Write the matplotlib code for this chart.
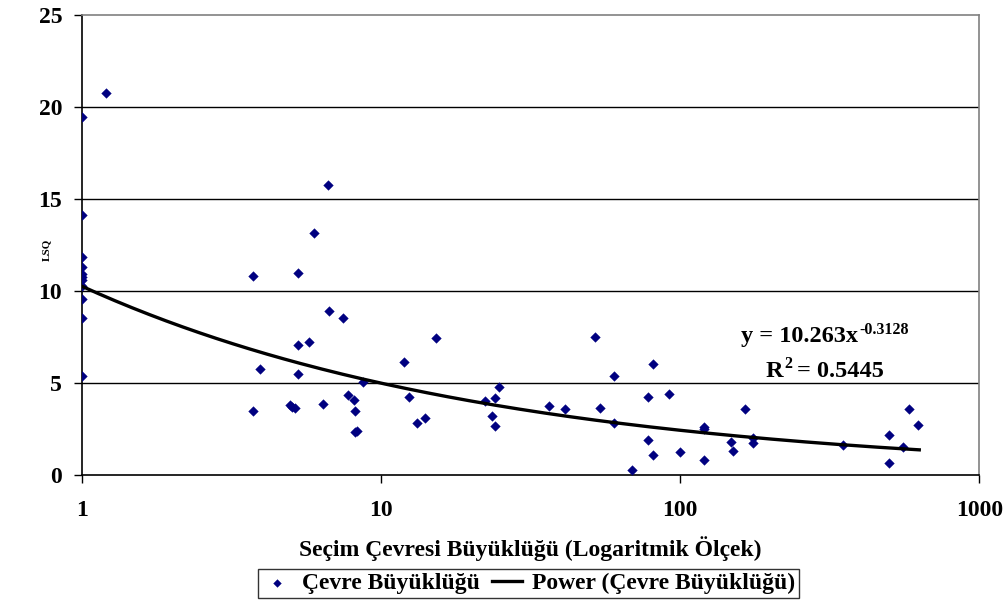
import numpy as np
import matplotlib
matplotlib.use("Agg")
import matplotlib.pyplot as plt

# ---- data ----
district_size = [1, 1, 1, 1, 1, 1, 1, 1, 1, 1, 1,
                 1.21, 6.65, 5.98,
                 3.73, 5.28, 6.70, 7.48, 5.77, 5.28, 3.94, 5.28, 8.71, 7.79, 8.12, 8.19,
                 8.2, 8.3, 3.73, 4.97, 5.06, 5.18, 6.41,
                 11.94, 15.3, 12.4, 13.2, 14.0, 24.9, 22.2, 24.0, 23.5, 24.0,
                 36.5, 41.2, 52.0, 60.1, 54.0, 60.3, 80.9, 77.9, 91.6, 77.9, 80.9, 100.2, 68.9,
                 119.9, 119.9, 119.9, 165.3, 148.5, 150.0, 175.8, 175.8,
                 349.8, 497.3, 497.3, 556.7, 583.0, 626.0]
lsq = [19.44, 14.15, 11.83, 11.32, 10.9, 10.74, 10.6, 10.25, 9.58, 8.53, 5.40,
       20.78, 15.78, 13.15,
       10.82, 10.98, 8.93, 8.51, 7.21, 7.05, 5.74, 5.47, 5.07, 4.37, 4.09, 3.48,
       2.35, 2.40, 3.46, 3.79, 3.71, 3.62, 3.84,
       6.14, 7.43, 4.24, 2.83, 3.10, 4.76, 4.04, 4.17, 3.21, 2.66,
       3.77, 3.57, 7.48, 5.40, 3.64, 2.84, 6.03, 4.22, 4.42, 1.88, 1.09, 1.27, 0.29,
       2.63, 2.50, 0.83, 3.60, 1.78, 1.29, 2.03, 1.72,
       1.65, 2.16, 0.65, 1.54, 3.60, 2.70]

# power trend line coefficients shown on the chart
coef_a = 10.263
coef_b = -0.3128
r2 = 0.5445
trend_x_range = (1, 630)

x_ticks = [1, 10, 100, 1000]
y_ticks = [0, 5, 10, 15, 20, 25]

plt.rcParams['font.family'] = ['Liberation Serif', 'DejaVu Serif']
plt.rcParams['font.weight'] = 'bold'

FS = 17
EQ_FS = 17.5
SUP_FS = 11.5

fig = plt.figure(figsize=(10.07, 6.06), dpi=100)
ax = fig.add_axes([0.0811, 0.2162, 0.9725 - 0.0811, 0.9752 - 0.2162])

ax.set_xscale('log')
ax.set_xlim(1, 1000)
ax.set_ylim(0, 25)

for yv in y_ticks[1:-1]:
    ax.axhline(yv, color='black', lw=1.0, zorder=1)

ax.scatter(district_size, lsq, marker='D', s=24, color='#000080',
           edgecolors='#000080', linewidths=0.3, zorder=3, label='Çevre Büyüklüğü')

tx = np.logspace(np.log10(trend_x_range[0]), np.log10(trend_x_range[1]), 200)
ax.plot(tx, coef_a * tx ** coef_b, color='black', lw=2.4, zorder=4,
        label='Power (Çevre Büyüklüğü)')

ax.set_xticks(x_ticks)
ax.set_xticklabels([str(v) for v in x_ticks])
ax.xaxis.set_minor_locator(matplotlib.ticker.NullLocator())
ax.set_yticks(y_ticks)
ax.tick_params(axis='both', direction='out', length=6, width=1, labelsize=FS, colors='black')
ax.tick_params(axis='x', pad=12)
ax.tick_params(axis='y', pad=8)
for lab in ax.get_xticklabels() + ax.get_yticklabels():
    lab.set_fontweight('bold')

ax.spines['left'].set_color('black')
ax.spines['bottom'].set_color('black')
ax.spines['top'].set_color('#808080')
ax.spines['right'].set_color('#808080')
for s in ax.spines.values():
    s.set_linewidth(1.2)

fig.text(0.5268, 1 - 549 / 606, 'Seçim Çevresi Büyüklüğü (Logaritmik Ölçek)',
         fontsize=FS, fontweight='bold', ha='center', va='center')
fig.text(47 / 1007, 1 - 250 / 606, 'LSQ', fontsize=8, fontweight='bold',
         rotation=90, ha='center', va='center')

# trend-line equation (superscripts drawn as separate text so the hyphen stays plain)
t1 = fig.text(741 / 1007, 1 - 342 / 606, 'y = %.3fx' % coef_a, fontsize=EQ_FS,
              fontweight='bold', ha='left', va='baseline')
ax.annotate('%.4f' % coef_b, xy=(1, 0), xycoords=t1, xytext=(1, 13),
            textcoords='offset pixels', fontsize=SUP_FS, fontweight='bold',
            ha='left', va='baseline')
t2 = fig.text(766 / 1007, 1 - 377 / 606, 'R', fontsize=EQ_FS,
              fontweight='bold', ha='left', va='baseline')
ax.annotate('2', xy=(1, 0), xycoords=t2, xytext=(1, 14),
            textcoords='offset pixels', fontsize=SUP_FS, fontweight='bold',
            ha='left', va='baseline')
fig.text(797 / 1007, 1 - 377 / 606, '= %.4f' % r2, fontsize=EQ_FS,
         fontweight='bold', ha='left', va='baseline')

leg = fig.legend(loc='center', bbox_to_anchor=(528.5 / 1007, 1 - 583.5 / 606), ncol=2,
                 fontsize=FS, frameon=True, fancybox=False, edgecolor='black',
                 handlelength=1.3, handletextpad=0.4, columnspacing=0.5,
                 borderpad=0.15, borderaxespad=0, markerscale=0.8)
leg.get_frame().set_linewidth(1.0)
for t in leg.get_texts():
    t.set_fontweight('bold')

fig.savefig('out.png', dpi=100)
